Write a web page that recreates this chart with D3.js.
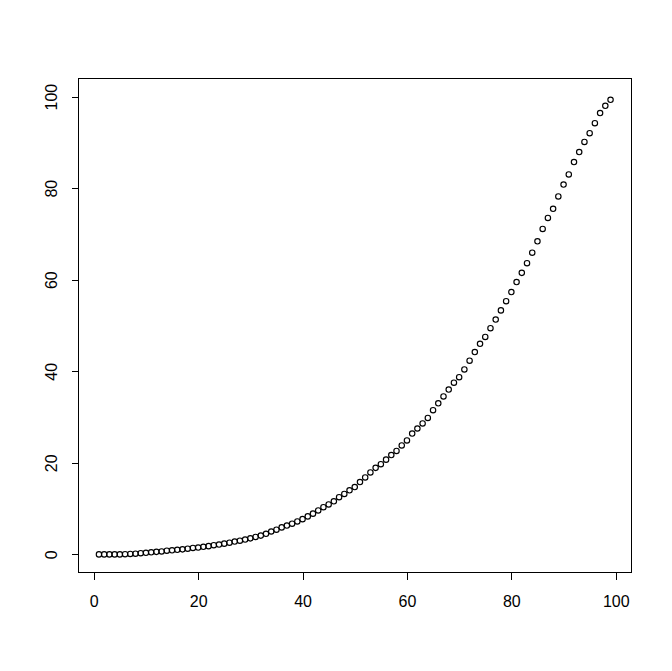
<!DOCTYPE html>
<html>
<head>
<meta charset="utf-8">
<script src="https://cdn.jsdelivr.net/npm/d3@7"></script>
<style>
  body { margin: 0; background: #fff; }
  text { font-family: "Liberation Sans", Arial, sans-serif; }
</style>
</head>
<body>
<div id="plot_div"></div>
<script>
// index of each point
var xValues = [1, 2, 3, 4, 5, 6, 7, 8, 9, 10, 11, 12, 13, 14, 15, 16, 17, 18, 19, 20,
    21, 22, 23, 24, 25, 26, 27, 28, 29, 30, 31, 32, 33, 34, 35, 36, 37, 38, 39, 40,
    41, 42, 43, 44, 45, 46, 47, 48, 49, 50, 51, 52, 53, 54, 55, 56, 57, 58, 59, 60,
    61, 62, 63, 64, 65, 66, 67, 68, 69, 70, 71, 72, 73, 74, 75, 76, 77, 78, 79, 80,
    81, 82, 83, 84, 85, 86, 87, 88, 89, 90, 91, 92, 93, 94, 95, 96, 97, 98, 99];

// values
var yValues = [0.0, 0.0, 0.0, 0.0, 0.0, 0.05, 0.1, 0.15, 0.25, 0.35,
    0.45, 0.55, 0.65, 0.8, 0.9, 1.0, 1.1, 1.25, 1.4, 1.5,
    1.65, 1.8, 2.0, 2.15, 2.35, 2.55, 2.8, 3.0, 3.25, 3.5,
    3.8, 4.1, 4.5, 5.0, 5.4, 5.9, 6.3, 6.7, 7.2, 7.7,
    8.3, 8.9, 9.6, 10.3, 10.9, 11.6, 12.5, 13.2, 14.0, 14.7,
    15.8, 16.8, 17.9, 18.9, 19.7, 20.7, 21.7, 22.6, 23.8, 24.9,
    26.4, 27.5, 28.6, 29.8, 31.5, 33.0, 34.5, 36.0, 37.5, 38.7,
    40.4, 42.3, 44.2, 46.0, 47.5, 49.4, 51.3, 53.3, 55.3, 57.3,
    59.5, 61.5, 63.6, 65.9, 68.4, 71.1, 73.5, 75.5, 78.2, 80.8,
    83.0, 85.7, 87.9, 90.1, 92.0, 94.2, 96.4, 98.0, 99.3];

// y limits of the plot (like ylim = c(0, 100))
var yLimits = [0, 100];

var xTicks = [0, 20, 40, 60, 80, 100];
var yTicks = [0, 20, 40, 60, 80, 100];

var margin = {top: 78.3, right: 41, bottom: 98.3, left: 78.5}
    , width = 672 - margin.left - margin.right
    , height = 671 - margin.top - margin.bottom;

// R style axis limits: range stretched by 4% on each side
function padRange(vals) {
    var ext = d3.extent(vals);
    var pad = (ext[1] - ext[0]) * 0.04;
    return [ext[0] - pad, ext[1] + pad];
}

var svg = d3.select("#plot_div").append("svg")
    .attr("width", 672)
    .attr("height", 671)
    .style("background", "#fff")
    .append("g")
    .attr("transform", "translate(" + margin.left + "," + margin.top + ")");

var x = d3.scaleLinear()
    .domain(padRange(xValues))
    .range([0, width]);

var y = d3.scaleLinear()
    .domain(padRange(yLimits))
    .range([height, 0]);

// x axis
var xAxis = svg.append("g")
    .attr("transform", "translate(0," + height + ")")
    .call(d3.axisBottom(x).tickValues(xTicks).tickSize(7).tickPadding(16).tickFormat(d3.format("d")));
xAxis.select(".domain").remove();
xAxis.selectAll("line").attr("stroke", "#000").attr("shape-rendering", "crispEdges");
xAxis.selectAll("text")
    .attr("fill", "#000")
    .style("font-size", "16px");

// y axis, labels turned like R's las = 0
var yAxis = svg.append("g")
    .call(d3.axisLeft(y).tickValues(yTicks).tickSize(7).tickFormat(d3.format("d")));
yAxis.select(".domain").remove();
yAxis.selectAll("line").attr("stroke", "#000").attr("shape-rendering", "crispEdges");
yAxis.selectAll("text")
    .attr("transform", "rotate(-90)")
    .attr("x", 0)
    .attr("y", -21.5)
    .attr("dy", 0)
    .attr("text-anchor", "middle")
    .attr("fill", "#000")
    .style("font-size", "16px");

// plot box
svg.append("rect")
    .attr("x", 0)
    .attr("y", 0)
    .attr("width", width)
    .attr("height", height)
    .attr("fill", "none")
    .attr("stroke", "#000")
    .attr("shape-rendering", "crispEdges");

// points
svg.selectAll(".pt")
    .data(xValues)
    .enter()
    .append("circle")
    .attr("class", "pt")
    .attr("cx", function (d) { return x(d); })
    .attr("cy", function (d, i) { return y(yValues[i]); })
    .attr("r", 2.7)
    .attr("fill", "none")
    .attr("stroke", "#000")
    .attr("stroke-width", 1.15);
</script>
</body>
</html>
